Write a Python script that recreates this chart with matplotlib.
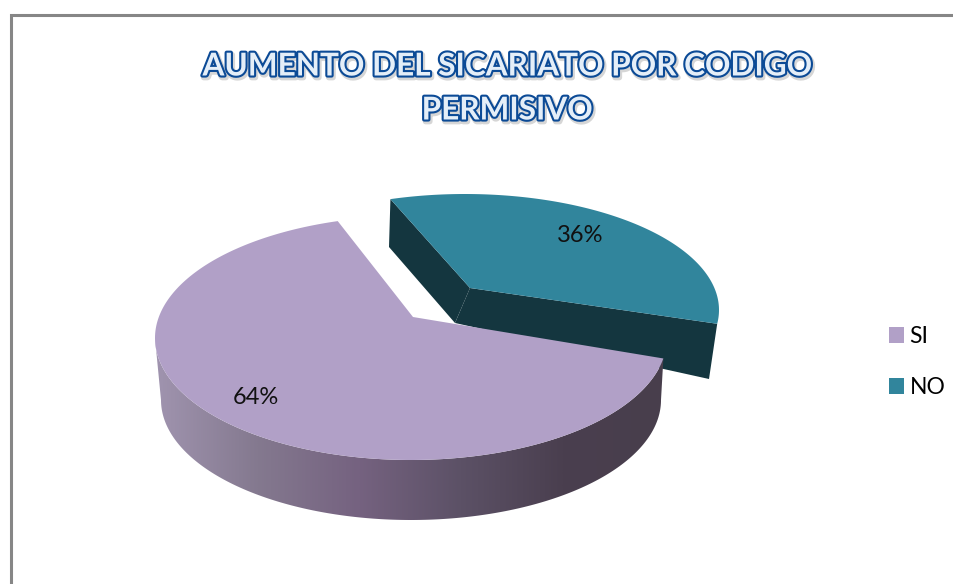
import numpy as np
import matplotlib
matplotlib.use("Agg")
import matplotlib.pyplot as plt
from matplotlib.patches import Polygon, Patch
from matplotlib.colors import LinearSegmentedColormap
import matplotlib.patheffects as pe

title_lines = ["AUMENTO DEL SICARIATO POR CODIGO", "PERMISIVO"]
categories = ["SI", "NO"]
values = [64, 36]
colors = ["#B1A0C7", "#31859C"]
dark_teal = "#14363F"
wall_colors = ["#A094AF", "#84798F", "#756280", "#5C5166", "#4A3F4F", "#483E4C"]
font = ["Lato", "DejaVu Sans"]

si_start = 110.2
no_start = 111.8
# ellipse geometry in pixels: centre x, centre y, rx, ry, apex x, apex y
si_top = (411, 338, 256, 122, 413, 317)
no_top = (465, 310, 254, 116, 470, 288)
si_bottom = (411, 400, 250, 120)
no_bottom_apex = (455, 323)
no_bottom_left = (389, 247)
no_bottom_right = (709, 379)


def project(theta_deg, geom, r=1.0):
    """Point at polar angle on the pie, seen through the chart's perspective."""
    cx, cy, rx, ry, ax_, ay_ = geom
    p = np.array([(ax_ - cx) / rx, (cy - ay_) / ry])
    a = np.hypot(*p)
    e = p / a
    t = np.radians(np.atleast_1d(theta_deg))
    z = r * np.column_stack([np.cos(t), np.sin(t)])
    para = z @ e
    perp = z - np.outer(para, e)
    new_para = (para + a) / (1 + a * para)
    new_perp = perp * (np.sqrt(1 - a * a) / (1 + a * para))[:, None]
    w = np.outer(new_para, e) + new_perp
    return np.column_stack([cx + rx * w[:, 0], cy - ry * w[:, 1]])


def wedge(t0, t1, geom):
    arc = project(np.linspace(t0, t1, 200), geom)
    return np.vstack([[geom[4], geom[5]], arc])


shares = np.array(values) / sum(values) * 360
si_t0, si_t1 = si_start, si_start + shares[0]
no_t0, no_t1 = no_start - shares[1], no_start

fig = plt.figure(figsize=(9.54, 5.84), dpi=100, facecolor="white")
ax = fig.add_axes([0, 0, 1, 1])
ax.set_axis_off()

# chart frame
ax.plot([11.5, 11.5, 954], [584, 15, 15], color="#868686", lw=2.2, solid_joinstyle="miter", zorder=1)

# NO slice: walls then top
no_tl = project(no_t1, no_top)[0]
no_tr = project(no_t0, no_top)[0]
apex = (no_top[4], no_top[5])
ax.add_patch(Polygon([no_tl, apex, no_bottom_apex, no_bottom_left], color=dark_teal, lw=0, zorder=2))
ax.add_patch(Polygon([apex, no_tr, no_bottom_right, no_bottom_apex], color=dark_teal, lw=0, zorder=2))
ax.add_patch(Polygon(wedge(no_t0, no_t1, no_top), color=colors[1], lw=0, zorder=3))

# SI slice: gradient wall then top
cx, cy, rx, ry = si_bottom
tb = np.radians(np.linspace(180, 360, 200))
bottom_arc = np.column_stack([cx + rx * np.cos(tb), cy - ry * np.sin(tb)])
top_arc = project(np.linspace(si_t1, 190, 200), si_top)
wall = Polygon(np.vstack([bottom_arc, top_arc]), closed=True, transform=ax.transData, fc="none", ec="none")
ax.add_patch(wall)
cmap = LinearSegmentedColormap.from_list("wall", wall_colors)
grad = np.linspace(0, 1, 512)[None, :]
im = ax.imshow(grad, extent=(155, 665, 525, 335), aspect="auto", cmap=cmap, zorder=4, interpolation="bilinear")
im.set_clip_path(wall)
ax.add_patch(Polygon(wedge(si_t0, si_t1, si_top), color=colors[0], lw=0, zorder=5))

ax.set_xlim(0, 954)
ax.set_ylim(584, 0)

# percent labels
for val, geom, mid, r in [(values[0], si_top, (si_t0 + si_t1) / 2 + 2, 0.82),
                          (values[1], no_top, (no_t0 + no_t1) / 2, 0.72)]:
    x, y = project(mid, geom, r=r)[0]
    ax.text(x, y, f"{val}%", ha="center", va="center", fontsize=17, color="#111111", family=font, zorder=6)

# title
effects = [
    pe.Stroke(linewidth=4, foreground="#8a8a8a", alpha=0.35, offset=(1, -1.5)),
    pe.Stroke(linewidth=3, foreground="#0B4A96"),
    pe.Normal(),
]
for line, y in zip(title_lines, (66, 110)):
    ax.text(507, y, line, ha="center", va="center", fontsize=22.7, fontweight="bold", color="#E4EEF8",
            family=font, path_effects=effects, zorder=6)

# legend
handles = [Patch(facecolor=c, edgecolor="none", label=l) for c, l in zip(colors, categories)]
ax.legend(handles=handles, loc="center left", bbox_to_anchor=(884, 362), bbox_transform=ax.transData,
          frameon=False, prop={"family": font, "size": 16.5}, handlelength=0.655, handleheight=0.655,
          handletextpad=0.26, labelspacing=1.3, borderpad=0, borderaxespad=0.2)

fig.savefig("out.png", dpi=100, facecolor="white")
